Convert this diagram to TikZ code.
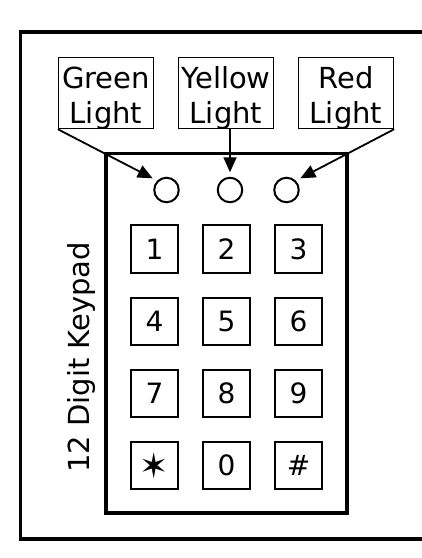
\documentclass[tikz,border=0pt]{standalone}
\usepackage{fontspec}
\setmainfont{DejaVu Sans}
\usetikzlibrary{arrows.meta}
\begin{document}
\begin{tikzpicture}[x=1pt,y=-1pt,
  frameline/.style={line width=3.4pt},
  padbox/.style={draw,line width=3.4pt,minimum width=241pt,minimum height=359.5pt,inner sep=0pt},
  lblbox/.style={draw,line width=1.4pt,minimum width=95pt,minimum height=71pt,inner sep=0pt},
  lbltext/.style={font=\fontsize{29}{35}\selectfont,align=center,inner sep=0pt},
  lamp/.style={circle,draw,line width=2pt,minimum size=24.5pt,inner sep=0pt},
  key/.style={draw,line width=1.7pt,minimum size=47.5pt,inner sep=0pt,font=\fontsize{28}{34}\selectfont},
  pointer/.style={line width=1.8pt,-{Triangle[length=15pt,width=13pt]}}]
\useasboundingbox (0,0) rectangle (422,558);
% outer frame (open on the right)
\draw[frameline] (422,32) -- (20.5,32) -- (20.5,539) -- (422,539);
% keypad body
\node[padbox] (pad) at (226.5,333.25) {};
% label boxes
\node[lblbox] (gl) at (106,93) {};
\node[lblbox] (yl) at (226,93) {};
\node[lblbox] (rl) at (346,93) {};
\node[lbltext,yshift=-5pt] (glt) at (gl.center) {Green\\Light};
\node[lbltext,yshift=-5pt] (ylt) at (yl.center) {Yellow\\Light};
\node[lbltext,yshift=-5pt] (rlt) at (rl.center) {Red\\Light};
% lamps
\node[lamp] (gc) at (166.5,190) {};
\node[lamp] (yc) at (230,190) {};
\node[lamp] (rc) at (286.5,190) {};
% pointers
\draw[pointer,shorten >=5pt] (gl.south west) -- (gc.135);
\draw[pointer,shorten >=4.5pt] (yc |- yl.south) -- (yc.north);
\draw[pointer,shorten >=5pt] (rl.south east) -- (rc.45);
% keys
\node[key] (k1) at (154.5,249) {1};
\node[key] (k2) at (226.5,249) {2};
\node[key] (k3) at (298.5,249) {3};
\node[key] (k4) at (154.5,321.5) {4};
\node[key] (k5) at (226.5,321.5) {5};
\node[key] (k6) at (298.5,321.5) {6};
\node[key] (k7) at (154.5,393.5) {7};
\node[key] (k8) at (226.5,393.5) {8};
\node[key] (k9) at (298.5,393.5) {9};
\node[key] (ks) at (154.5,465.5) {\fontsize{35}{35}\selectfont ✶};
\node[key] (k0) at (226.5,465.5) {0};
\node[key] (kh) at (298.5,465.5) {\#};
% side label
\node[rotate=90,anchor=base,inner sep=0pt,font=\fontsize{29}{35}\selectfont] (side) at (89,357.5) {12 Digit Keypad};
\end{tikzpicture}
\end{document}
